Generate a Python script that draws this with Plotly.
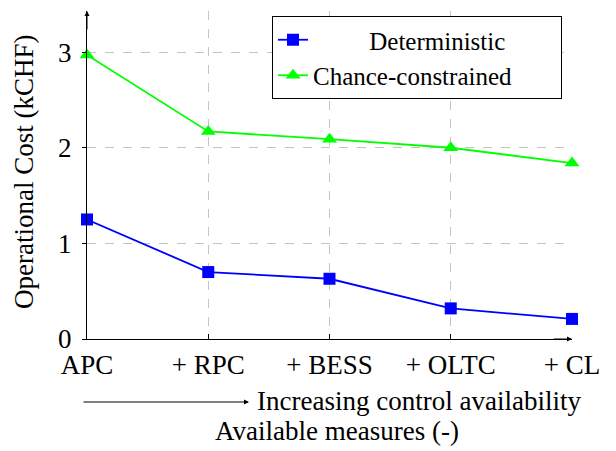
import plotly.graph_objects as go

categories = ["APC", "+ RPC", "+ BESS", "+ OLTC", "+ CL"]
series_names = ["Deterministic", "Chance-constrained"]
deterministic = [1.25, 0.70, 0.63, 0.32, 0.21]
chance_constrained = [2.97, 2.17, 2.09, 2.00, 1.84]
y_ticks = [0, 1, 2, 3]

FONT = "'Liberation Serif', 'Times New Roman', Times, serif"
FS = 27
LFS = 25
NB = "\u00a0"

fig = go.Figure()
fig.add_trace(go.Scatter(
    x=list(range(len(categories))), y=deterministic,
    name=NB * 9 + series_names[0] + NB * 8,
    mode="lines+markers", line=dict(color="#0000ff", width=1.8), cliponaxis=False,
    marker=dict(symbol="square", size=12, color="#0000ff")))
fig.add_trace(go.Scatter(
    x=list(range(len(categories))), y=chance_constrained,
    name=series_names[1] + NB * 7,
    mode="lines+markers", line=dict(color="#00ff00", width=1.8), cliponaxis=False,
    marker=dict(symbol="triangle-up", size=13, color="#00ff00")))

OFF = 8  # page body margin
W, H = 616 - OFF, 451 - OFF
# plot area in page pixels: x 87..572, y 11..339
L = 87 - OFF
R = W - (572 - OFF)
T = 11 - OFF
B = H - (339 - OFF)
pw, ph = W - L - R, H - T - B

def px(xp):
    return (xp - OFF - L) / pw

def py(yp):
    return (H - B - (yp - OFF)) / ph

fig.update_layout(
    width=W, height=H,
    margin=dict(l=L, r=R, t=T, b=B, autoexpand=False),
    plot_bgcolor="white", paper_bgcolor="white",
    font=dict(family=FONT, size=FS, color="black"),
    showlegend=True,
    legend=dict(x=px(272), y=py(16), xanchor="left", yanchor="top",
                bordercolor="black", borderwidth=1, bgcolor="white",
                font=dict(family=FONT, size=LFS), tracegroupgap=0),
    xaxis=dict(range=[0, 4], tickmode="array", tickvals=list(range(len(categories))),
               ticktext=categories, showgrid=True, gridcolor="#c4c4c4", griddash="dash",
               gridwidth=1, showline=True, linecolor="black", linewidth=1,
               ticks="inside", ticklen=5, tickcolor="black", zeroline=False,
               ticklabelstandoff=2,
               automargin=False, tickfont=dict(family=FONT, size=FS)),
    yaxis=dict(range=[0, 3.43], tickmode="array", tickvals=y_ticks,
               showgrid=True, gridcolor="#c4c4c4", griddash="dash", gridwidth=1,
               showline=True, linecolor="black", linewidth=1,
               ticks="outside", ticklen=4, tickcolor="black", zeroline=False,
               ticklabelstandoff=5,
               automargin=False, tickfont=dict(family=FONT, size=FS)),
)

# axis arrowheads
fig.add_annotation(x=0, y=1.0, xref="paper", yref="paper", text="",
                   showarrow=True, ax=0, ay=20, arrowhead=2, arrowsize=1,
                   arrowwidth=1, arrowcolor="black")
fig.add_annotation(x=1.0, y=0, xref="paper", yref="paper", text="",
                   showarrow=True, ax=-20, ay=0, arrowhead=2, arrowsize=1,
                   arrowwidth=1, arrowcolor="black")

# y axis title
fig.add_annotation(x=px(24), y=py(172), xref="paper", yref="paper",
                   text="Operational Cost (kCHF)", textangle=-90, showarrow=False,
                   xanchor="center", yanchor="middle", font=dict(family=FONT, size=FS))

# x axis title lines
fig.add_annotation(x=px(249), y=py(402), xref="paper", yref="paper", text="",
                   showarrow=True, ax=-167, ay=0, arrowhead=2, arrowsize=1,
                   arrowwidth=1, arrowcolor="black")
fig.add_annotation(x=px(255), y=py(401), xref="paper", yref="paper",
                   text="Increasing control availability", showarrow=False,
                   xanchor="left", yanchor="middle", font=dict(family=FONT, size=FS))
fig.add_annotation(x=px(337), y=py(431), xref="paper", yref="paper",
                   text="Available measures (-)", showarrow=False,
                   xanchor="center", yanchor="middle", font=dict(family=FONT, size=FS))

fig.write_html("out.html")
